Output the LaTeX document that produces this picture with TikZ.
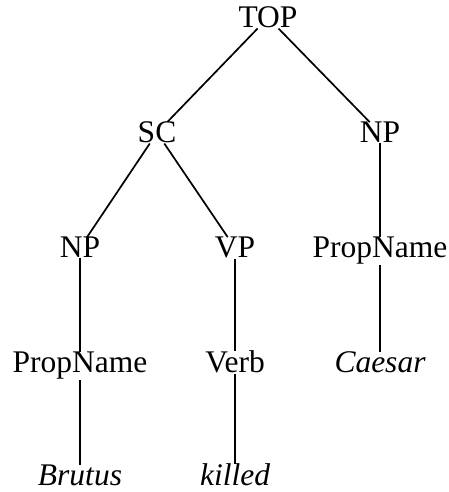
\documentclass[tikz,border=0pt]{standalone}
\usepackage{fontspec}
\setmainfont{Liberation Serif}
\begin{document}
\begin{tikzpicture}[x=1pt,y=1pt,
  lbl/.style={font=\fontsize{31.5}{36}\selectfont, inner sep=0pt, anchor=base},
  leaf/.style={font=\fontsize{31.5}{36}\selectfont\itshape, inner sep=0pt, anchor=base},
  edge/.style={line width=1.7pt}]
\useasboundingbox (0,0) rectangle (448,492);
\node[lbl] (top) at (268,464) {TOP};
\node[lbl] (sc) at (157,349) {SC};
\node[lbl] (npr) at (380,349) {NP};
\node[lbl] (npl) at (80,234) {NP};
\node[lbl] (vp) at (235,234) {VP};
\node[lbl] (pnr) at (380,234) {PropName};
\node[lbl] (pnl) at (80,119) {PropName};
\node[lbl] (verb) at (235,119) {Verb};
\node[leaf] (caesar) at (380,119) {Caesar};
\node[leaf] (brutus) at (80,6) {Brutus};
\node[leaf] (killed) at (235,6) {killed};
\draw[edge] (top) -- (sc);
\draw[edge] (top) -- (npr);
\draw[edge] (sc) -- (npl);
\draw[edge] (sc) -- (vp);
\draw[edge] (npr) -- (pnr);
\draw[edge] (npl) -- (pnl);
\draw[edge] (vp) -- (verb);
\draw[edge] (pnr) -- (caesar);
\draw[edge] (pnl) -- (brutus);
\draw[edge] (verb) -- (killed);
\end{tikzpicture}
\end{document}
